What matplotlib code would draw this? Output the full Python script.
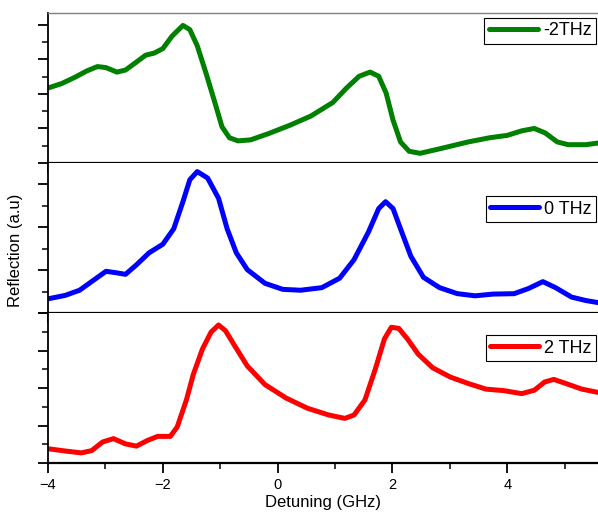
import matplotlib
matplotlib.use("Agg")
import matplotlib.pyplot as plt
from matplotlib.ticker import MultipleLocator

plt.rcParams["font.family"] = ["Liberation Sans", "DejaVu Sans"]

# detuning (GHz) and reflection (a.u.)
x_m2 = [-4.0, -3.76, -3.52, -3.33, -3.14, -2.99, -2.80, -2.65, -2.46, -2.30, -2.15, -2.00,
        -1.84, -1.65, -1.53, -1.40, -1.25, -1.09, -0.97, -0.84, -0.69, -0.47, -0.16, 0.21,
        0.58, 0.96, 1.20, 1.42, 1.61, 1.76, 1.89, 2.01, 2.14, 2.29, 2.48, 2.82, 3.32,
        3.69, 4.00, 4.25, 4.47, 4.66, 4.87, 5.06, 5.37, 5.59]
y_m2 = [2.17, 2.30, 2.49, 2.66, 2.79, 2.76, 2.63, 2.69, 2.92, 3.12, 3.18, 3.31,
        3.67, 3.98, 3.86, 3.39, 2.61, 1.73, 1.05, 0.73, 0.64, 0.67, 0.85, 1.09,
        1.36, 1.75, 2.17, 2.51, 2.63, 2.51, 2.02, 1.24, 0.61, 0.34, 0.28, 0.41, 0.61,
        0.73, 0.80, 0.93, 1.00, 0.87, 0.61, 0.53, 0.53, 0.58]

x_0 = [-4.0, -3.70, -3.45, -3.20, -2.99, -2.83, -2.65, -2.46, -2.24, -2.00, -1.81, -1.65,
       -1.53, -1.40, -1.22, -1.03, -0.88, -0.72, -0.53, -0.22, 0.09, 0.40, 0.77, 1.08,
       1.33, 1.58, 1.76, 1.88, 2.01, 2.14, 2.32, 2.54, 2.82, 3.13, 3.44, 3.75, 4.12,
       4.37, 4.62, 4.84, 5.12, 5.37, 5.59]
y_0 = [0.33, 0.41, 0.53, 0.77, 0.97, 0.94, 0.90, 1.12, 1.40, 1.60, 1.96, 2.59,
       3.10, 3.29, 3.14, 2.67, 1.96, 1.40, 1.01, 0.69, 0.55, 0.53, 0.59, 0.81,
       1.24, 1.88, 2.43, 2.59, 2.43, 1.96, 1.32, 0.83, 0.59, 0.45, 0.40, 0.44, 0.45,
       0.57, 0.73, 0.59, 0.37, 0.29, 0.24]

x_2 = [-4.0, -3.70, -3.42, -3.24, -3.05, -2.86, -2.65, -2.46, -2.27, -2.09, -1.87, -1.75,
       -1.59, -1.47, -1.31, -1.16, -1.03, -0.91, -0.75, -0.53, -0.22, 0.15, 0.52, 0.89,
       1.17, 1.33, 1.52, 1.70, 1.86, 1.98, 2.11, 2.26, 2.45, 2.70, 3.01, 3.32, 3.63,
       3.94, 4.25, 4.47, 4.65, 4.81, 5.02, 5.30, 5.59]
y_2 = [0.38, 0.32, 0.27, 0.33, 0.56, 0.65, 0.51, 0.45, 0.60, 0.71, 0.71, 0.96,
       1.68, 2.36, 3.04, 3.49, 3.68, 3.53, 3.13, 2.59, 2.09, 1.73, 1.46, 1.28,
       1.19, 1.28, 1.68, 2.50, 3.31, 3.62, 3.59, 3.31, 2.90, 2.54, 2.29, 2.12, 1.97,
       1.93, 1.85, 1.94, 2.16, 2.23, 2.12, 1.97, 1.88]

series = [
    (x_m2, y_m2, "green", "-2THz", 4.34, 0.967),
    (x_0, y_0, "blue", "0 THz", 3.49, 0.78),
    (x_2, y_2, "red", "2 THz", 4.0, 0.853),
]

fig, axes = plt.subplots(3, 1, figsize=(5.98, 5.16), dpi=100, sharex=True)
fig.subplots_adjust(left=0.0803, right=1.0, bottom=0.1027, top=0.9748, hspace=0)

for ax, (x, y, color, label, ytop, legtop) in zip(axes, series):
    ax.plot(x, y, color=color, lw=3.6, label=label, solid_joinstyle="round",
            solid_capstyle="round")
    ax.set_xlim(-4, 5.58)
    ax.set_ylim(0, ytop)
    ax.xaxis.set_major_locator(MultipleLocator(2))
    ax.xaxis.set_minor_locator(MultipleLocator(1))
    ax.yaxis.set_major_locator(MultipleLocator(1))
    ax.yaxis.set_minor_locator(MultipleLocator(0.5))
    ax.tick_params(which="major", direction="out", length=7, width=1.3, labelsize=10.5)
    ax.tick_params(which="minor", direction="out", length=4, width=1.1)
    ax.tick_params(axis="y", labelleft=False)
    ax.spines["right"].set_visible(False)
    ax.spines["left"].set_linewidth(1.3)
    ax.spines["bottom"].set_linewidth(1.6)
    ax.spines["top"].set_visible(False)
    leg = ax.legend(loc="upper right", bbox_to_anchor=(0.997, legtop), fontsize=13,
                    handlelength=2.7, handletextpad=0.3, borderpad=0.25, fancybox=False,
                    framealpha=1, edgecolor="black", borderaxespad=0)
    leg.get_frame().set_linewidth(0.8)

axes[0].spines["top"].set_visible(True)
axes[0].spines["top"].set_color("gray")
axes[0].spines["top"].set_linewidth(1.0)

axes[-1].set_xlabel("Detuning (GHz)", fontsize=12)
axes[-1].xaxis.set_label_coords(0.5, -0.215)
fig.text(0.026, 0.515, "Reflection (a.u)", rotation=90, fontsize=12, va="center", ha="center")

fig.savefig("out.png", dpi=100)
